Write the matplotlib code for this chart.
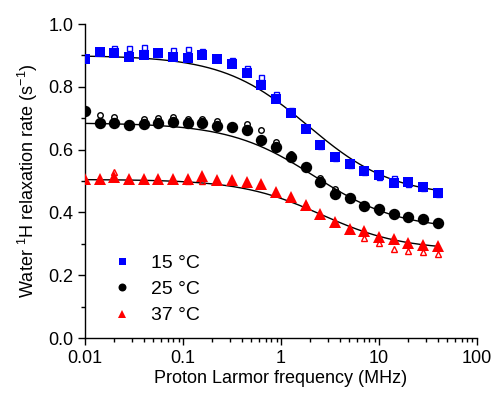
import numpy as np
import matplotlib
matplotlib.use('Agg')
import matplotlib.pyplot as plt
from matplotlib.ticker import FixedLocator, NullFormatter, FormatStrFormatter

plt.rcParams['font.family'] = ['Liberation Sans', 'DejaVu Sans']
plt.rcParams['mathtext.default'] = 'regular'

# Proton Larmor frequency (MHz)
freq = [0.01, 0.0141, 0.02, 0.0282, 0.0398, 0.0562, 0.0794, 0.112, 0.158,
        0.224, 0.316, 0.447, 0.631, 0.891, 1.26, 1.78, 2.51, 3.55, 5.01,
        7.08, 10.0, 14.1, 20.0, 28.2, 39.8]

# relaxation rates (s^-1), filled = main series, open = repeat series
r15 = [0.889, 0.910, 0.907, 0.896, 0.902, 0.909, 0.896, 0.893, 0.901, 0.890,
       0.872, 0.843, 0.806, 0.760, 0.718, 0.666, 0.616, 0.576, 0.553, 0.533,
       0.518, 0.495, 0.496, 0.482, 0.463]
r15_open = [0.895, 0.912, 0.923, 0.923, 0.926, 0.905, 0.918, 0.920, 0.914, 0.892,
            0.885, 0.861, 0.832, 0.777, 0.725, 0.668, 0.612, 0.574, 0.550, 0.530,
            0.512, 0.509, 0.492, 0.478, 0.460]
r25 = [0.724, 0.686, 0.686, 0.678, 0.680, 0.686, 0.689, 0.686, 0.686, 0.675,
       0.673, 0.662, 0.631, 0.609, 0.578, 0.544, 0.496, 0.458, 0.447, 0.421,
       0.410, 0.394, 0.386, 0.378, 0.365]
r25_open = [0.720, 0.710, 0.703, 0.685, 0.696, 0.700, 0.705, 0.697, 0.697, 0.692,
            0.675, 0.680, 0.662, 0.625, 0.586, 0.545, 0.511, 0.475, 0.445, 0.420,
            0.400, 0.392, 0.384, 0.376, 0.363]
r37 = [0.506, 0.506, 0.514, 0.505, 0.506, 0.507, 0.506, 0.506, 0.517, 0.503,
       0.503, 0.496, 0.489, 0.466, 0.450, 0.425, 0.395, 0.368, 0.346, 0.342,
       0.323, 0.315, 0.301, 0.295, 0.294]
r37_open = [0.503, 0.503, 0.530, 0.503, 0.503, 0.504, 0.503, 0.501, 0.501, 0.500,
            0.500, 0.494, 0.486, 0.463, 0.447, 0.422, 0.392, 0.365, 0.343, 0.317,
            0.303, 0.283, 0.278, 0.273, 0.268]

# fitted dispersion curves: R = a + b / (1 + (f/fc)^p)
fit15 = (0.45, 0.45, 1.9, 1.0)
fit25 = (0.345, 0.34, 2.2, 1.0)
fit37 = (0.28, 0.225, 2.6, 1.05)

labels = ['15 °C', '25 °C', '37 °C']
yticks = [0.0, 0.2, 0.4, 0.6, 0.8, 1.0]
yminor = [0.1, 0.3, 0.5, 0.7, 0.9]
xticks = [0.01, 0.1, 1, 10, 100]


def dispersion(f, a, b, fc, p):
    return a + b / (1.0 + (f / fc) ** p)


fig = plt.figure(figsize=(4.95, 3.95), dpi=100)
ax = fig.add_axes([0.1717, 0.1443, 0.7919, 0.7949])

f_fit = np.logspace(np.log10(freq[0]), np.log10(freq[-1]), 400)
for fit in (fit15, fit25, fit37):
    ax.plot(f_fit, dispersion(f_fit, *fit), color='black', lw=1.0, zorder=2)

series = [
    (r15, r15_open, 's', '#0000ff', 7.2, 3.6),
    (r25, r25_open, 'o', 'black', 8.2, 4.0),
    (r37, r37_open, '^', '#ff0000', 8.2, 4.2),
]
for (filled, hollow, mk, col, ms, ms_open), lab in zip(series, labels):
    ax.plot(freq, hollow, linestyle='none', marker=mk, markerfacecolor='none',
            markeredgecolor=col, markersize=ms_open, markeredgewidth=1.0, zorder=3)
    ax.plot(freq, filled, linestyle='none', marker=mk, color=col,
            markersize=ms, markeredgewidth=0, label=lab, zorder=4)

ax.set_xscale('log')
ax.set_xlim(0.01, 100)
ax.set_ylim(0.0, 1.0)
ax.yaxis.set_major_locator(FixedLocator(yticks))
ax.yaxis.set_minor_locator(FixedLocator(yminor))
ax.yaxis.set_major_formatter(FormatStrFormatter('%.1f'))
ax.xaxis.set_major_locator(FixedLocator(xticks))
minors = [m * d for d in xticks[:-1] for m in range(2, 10)]
ax.xaxis.set_minor_locator(FixedLocator(minors))
ax.xaxis.set_minor_formatter(NullFormatter())
ax.xaxis.set_major_formatter(FormatStrFormatter('%g'))

for side in ('top', 'right'):
    ax.spines[side].set_visible(False)
for side in ('left', 'bottom'):
    ax.spines[side].set_linewidth(1.0)
ax.tick_params(which='major', direction='out', length=5, width=1.0, labelsize=13)
ax.tick_params(which='minor', direction='out', length=3, width=1.0)

ax.set_xlabel('Proton Larmor frequency (MHz)', fontsize=13, labelpad=2)
ax.set_ylabel('Water $^{1}$H relaxation rate (s$^{-1}$)', fontsize=13, labelpad=6)

ax.legend(loc='lower left', bbox_to_anchor=(0.01, 0.0), frameon=False,
          fontsize=14, markerscale=0.7, handletextpad=0.5, labelspacing=0.45,
          borderaxespad=0.3)

fig.savefig('out.png', dpi=100)
